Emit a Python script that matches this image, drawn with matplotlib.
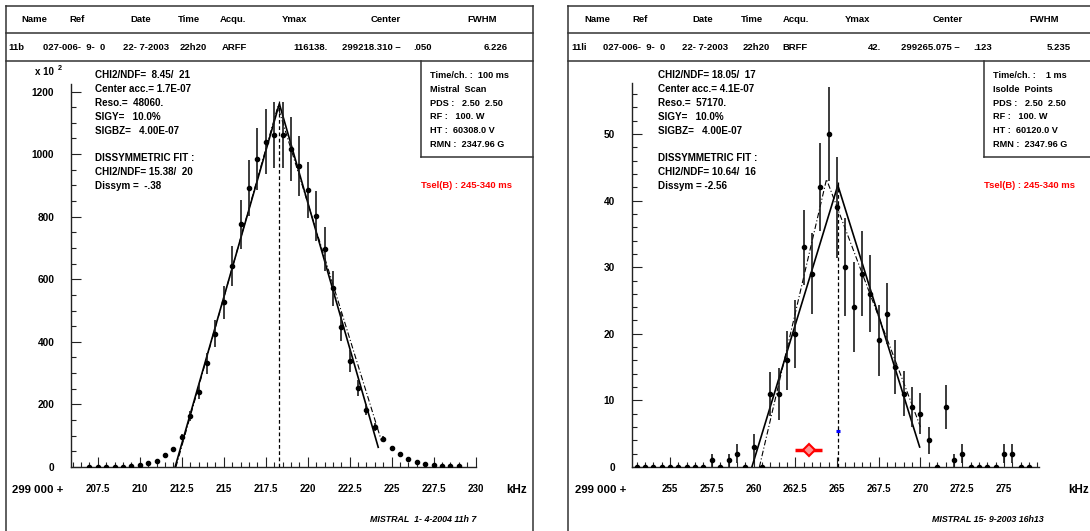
import matplotlib
matplotlib.use('Agg')
import matplotlib.pyplot as plt
from matplotlib.lines import Line2D
from matplotlib.ticker import MultipleLocator

W, H = 1090, 531
plt.rcParams['font.family'] = ['Liberation Sans', 'DejaVu Sans']
plt.rcParams['font.weight'] = 'bold'

# ---------------- data : left panel (11b, ARFF) ----------------
left_x = [207.0, 207.5, 208.0, 208.5, 209.0, 209.5, 210.0, 210.5, 211.0, 211.5,
          212.0, 212.5, 213.0, 213.5, 214.0, 214.5, 215.0, 215.5, 216.0, 216.5,
          217.0, 217.5, 218.0, 218.5, 219.0, 219.5, 220.0, 220.5, 221.0, 221.5,
          222.0, 222.5, 223.0, 223.5, 224.0, 224.5, 225.0, 225.5, 226.0, 226.5,
          227.0, 227.5, 228.0, 228.5, 229.0]
left_y = [1, 1, 1, 1, 1, 2, 6, 12, 20, 37,
          56, 97, 163, 240, 331, 426, 527, 643, 776, 891,
          984, 1040, 1061, 1061, 1015, 961, 885, 801, 697, 571,
          449, 339, 253, 183, 129, 91, 62, 40, 25, 16,
          9, 6, 3, 2, 2]
left_err = [0, 0, 0, 0, 0, 0, 1, 1, 2, 4,
            6, 10, 16, 24, 33, 43, 53, 64, 78, 89,
            98, 104, 106, 106, 102, 96, 89, 80, 70, 57,
            45, 34, 25, 18, 13, 9, 6, 4, 3, 2,
            1, 1, 0, 0, 0]
left_fit_x = [212.1, 218.31, 224.2]
left_fit_y = [0, 1161, 63]
left_dis_x = [212.15, 218.22, 224.4]
left_dis_y = [0, 1152, 82]
left_center = 218.31
left_center_top = 1170
left_xticks = [207.5, 210, 212.5, 215, 217.5, 220, 222.5, 225, 227.5, 230]
left_xlabels = ['207.5', '210', '212.5', '215', '217.5', '220', '222.5', '225', '227.5', '230']
left_yticks = [0, 200, 400, 600, 800, 1000, 1200]

# ---------------- data : right panel (11li, BRFF) ----------------
right_x = [253.0, 253.5, 254.0, 254.5, 255.0, 255.5, 256.0, 256.5, 257.0, 257.5,
           258.0, 258.5, 259.0, 259.5, 260.0, 260.5, 261.0, 261.5, 262.0, 262.5,
           263.0, 263.5, 264.0, 264.5, 265.0, 265.5, 266.0, 266.5, 267.0, 267.5,
           268.0, 268.5, 269.0, 269.5, 270.0, 270.5, 271.0, 271.5, 272.0, 272.5,
           273.0, 273.5, 274.0, 274.5, 275.0, 275.5, 276.0, 276.5]
right_y = [0, 0, 0, 0, 0, 0, 0, 0, 0, 1,
           0, 1, 2, 0, 3, 0, 11, 11, 16, 20,
           33, 29, 42, 50, 39, 30, 24, 29, 26, 19,
           23, 15, 11, 9, 8, 4, 0, 9, 1, 2,
           0, 0, 0, 0, 2, 2, 0, 0]
right_err = [0, 0, 0, 0, 0, 0, 0, 0, 0, 1.0,
             0, 1.0, 1.4, 0, 2.0, 0, 3.3, 3.9, 4.4, 5.1,
             5.6, 6.1, 6.6, 7.0, 7.6, 7.4, 6.8, 6.4, 5.8, 5.3,
             4.6, 4.1, 3.4, 3.0, 3.1, 2.0, 0, 3.3, 1.0, 1.4,
             0, 0, 0, 0, 1.4, 1.4, 0, 0]
right_fit_x = [259.9, 265.05, 269.95]
right_fit_y = [0, 42.3, 3.0]
right_dis_x = [260.35, 264.37, 270.0]
right_dis_y = [0, 43.2, 6.0]
right_center = 265.075
right_center_top = 43
right_red_x, right_red_xerr, right_red_y = 263.3, 0.8, 2.6
right_blue_x, right_blue_y = 265.05, 5.4
right_xticks = [255, 257.5, 260, 262.5, 265, 267.5, 270, 272.5, 275]
right_xlabels = ['255', '257.5', '260', '262.5', '265', '267.5', '270', '272.5', '275']
right_yticks = [0, 10, 20, 30, 40, 50]

# ---------------- texts ----------------
header_names = ['Name', 'Ref', 'Date', 'Time', 'Acqu.', 'Ymax', 'Center', 'FWHM']
left_row = ['11b', '027-006-  9-  0', '22- 7-2003', '22h20', 'ARFF', '116138.', '299218.310 \u2013', '.050', '6.226']
right_row = ['11li', '027-006-  9-  0', '22- 7-2003', '22h20', 'BRFF', '42.', '299265.075 \u2013', '.123', '5.235']
left_stats = ['CHI2/NDF=  8.45/  21', 'Center acc.= 1.7E-07', 'Reso.=  48060.', 'SIGY=   10.0%',
              'SIGBZ=   4.00E-07', '', 'DISSYMMETRIC FIT :', 'CHI2/NDF= 15.38/  20', 'Dissym =  -.38']
right_stats = ['CHI2/NDF= 18.05/  17', 'Center acc.= 4.1E-07', 'Reso.=  57170.', 'SIGY=   10.0%',
               'SIGBZ=   4.00E-07', '', 'DISSYMMETRIC FIT :', 'CHI2/NDF= 10.64/  16', 'Dissym = -2.56']
left_box = ['Time/ch. :  100 ms', 'Mistral  Scan', 'PDS :   2.50  2.50', 'RF :   100. W',
            'HT :  60308.0 V', 'RMN :  2347.96 G']
right_box = ['Time/ch. :    1 ms', 'Isolde  Points', 'PDS :   2.50  2.50', 'RF :   100. W',
             'HT :  60120.0 V', 'RMN :  2347.96 G']
tsel = 'Tsel(B) : 245-340 ms'
left_footer = 'MISTRAL  1- 4-2004 11h 7'
right_footer = 'MISTRAL 15- 9-2003 16h13'

fig = plt.figure(figsize=(W / 100, H / 100), dpi=100)
fig.patch.set_facecolor('white')


def fx(x):
    return x / W


def fy(y):
    return 1 - y / H


def line(xs, ys, lw=1.1, color='#333333'):
    fig.add_artist(Line2D([fx(v) for v in xs], [fy(v) for v in ys],
                          transform=fig.transFigure, color=color, lw=lw))


def txt(x, y, s, ha='center', size=7, **kw):
    fig.text(fx(x), fy(y), s, ha=ha, va='center', fontsize=size,
             fontweight='bold', **kw)


def panel(off, row, stats, box, footer, footer_x, has_mult, row_pos):
    L, R = 5.7 + off, 532.7 + off
    line([L, R], [5.7, 5.7])
    line([L, L], [5.7, 540])
    line([R, R], [5.7, 540])
    line([L, R], [33.3, 33.3])
    line([L, R], [61, 61])
    bx = 421 + off
    line([bx, bx], [61, 157.3])
    line([bx, R], [157.3, 157.3])
    hx = [34.7, 77, 140.4, 189, 233, 294.7, 385.5, 482]
    for x, s in zip(hx, header_names):
        txt(x + off, 19.5, s, size=6.8)
    y = 47.5
    aligns = ['left', 'center', 'center', 'center', 'left', 'right', 'left', 'left', 'center']
    for x, s, a in zip(row_pos, row, aligns):
        txt(x + off, y, s, ha=a, size=6.8)
    for i, s in enumerate(stats):
        if s:
            txt(95.3 + off, 75 + 13.9 * i, s, ha='left', size=7.1)
    for i, s in enumerate(box):
        txt(430 + off, 75.5 + 13.8 * i, s, ha='left', size=6.6)
    txt(421 + off, 186, tsel, ha='left', size=6.8, color='#ff0000')
    txt(footer_x, 520, footer, ha='center', size=6.4, style='italic')
    if has_mult:
        txt(35 + off, 72, 'x 10', ha='left', size=7)
        txt(57.5 + off, 68.5, '2', ha='left', size=5.2)


def make_axes(x0, x1, ytop, ybot, xlim, ylim):
    ax = fig.add_axes([fx(x0), fy(ybot), (x1 - x0) / W, (ybot - ytop) / H])
    ax.set_xlim(*xlim)
    ax.set_ylim(*ylim)
    ax.patch.set_alpha(0)
    for s in ('top', 'right'):
        ax.spines[s].set_visible(False)
    for s in ('left', 'bottom'):
        ax.spines[s].set_linewidth(1.0)
        ax.spines[s].set_color('#222222')
    ax.tick_params(which='both', direction='in', top=False, right=False,
                   width=0.8, color='#222222')
    ax.tick_params(which='major', length=7.2)
    ax.tick_params(axis='x', which='major', pad=12.5, labelsize=7.0)
    ax.tick_params(axis='y', which='major', pad=12, labelsize=7.3)
    ax.tick_params(which='minor', length=3.6)
    ax.xaxis.set_minor_locator(MultipleLocator(0.5))
    return ax


def draw_data(ax, xs, ys, es, fx_, fy_, dx_, dy_, cx, ctop):
    ax.errorbar(xs, ys, yerr=es, fmt='o', ms=3.0, color='black',
                ecolor='#1a1a1a', elinewidth=1.2, capsize=0, zorder=4)
    ax.plot(fx_, fy_, color='black', lw=1.2, zorder=3)
    ax.plot(dx_, dy_, color='black', lw=0.8, ls=(0, (5, 2, 1, 2)), zorder=3)
    ax.plot([cx, cx], [0, ctop], color='black', lw=0.9, ls=(0, (3, 2)), zorder=3)


# ---------- left ----------
panel(0, left_row, left_stats, left_box, left_footer, 423, True,
      [8.5, 74.5, 146, 193, 221.5, 327.5, 342, 413, 496])
axL = make_axes(71, 475.6, 83.7, 467, (205.9, 230.0), (0, 1225))
axL.set_xticks(left_xticks, left_xlabels)
axL.set_yticks(left_yticks)
axL.yaxis.set_minor_locator(MultipleLocator(50))
draw_data(axL, left_x, left_y, left_err, left_fit_x, left_fit_y,
          left_dis_x, left_dis_y, left_center, left_center_top)
for lab in axL.get_xticklabels() + axL.get_yticklabels():
    lab.set_fontweight('bold')
txt(38, 490, '299 000 +', size=8.2)
txt(516.5, 490, 'kHz', size=8.4)

# ---------- right ----------
off = 562.6
panel(off, right_row, right_stats, right_box, right_footer, 988, False,
      [8.5, 71.5, 142.5, 193.5, 220, 319, 338, 411, 496])
axR = make_axes(631.7, 1039, 82.7, 467, (252.7, 277.1), (0, 57.7))
axR.set_xticks(right_xticks, right_xlabels)
axR.set_yticks(right_yticks)
axR.yaxis.set_minor_locator(MultipleLocator(2))
draw_data(axR, right_x, right_y, right_err, right_fit_x, right_fit_y,
          right_dis_x, right_dis_y, right_center, right_center_top)
axR.errorbar([right_red_x], [right_red_y], xerr=[right_red_xerr], fmt='D', ms=6,
             color='#ff0000', mfc='#ff9090', mec='#ff0000', mew=1.5,
             elinewidth=2.5, capsize=0, zorder=5)
axR.plot([right_blue_x], [right_blue_y], marker='_', ms=3.5, mew=2.2,
         color='#0000ff', zorder=5)
for lab in axR.get_xticklabels() + axR.get_yticklabels():
    lab.set_fontweight('bold')
txt(601, 490, '299 000 +', size=8.2)
txt(1068.5, 490, 'kHz', ha='left', size=8.4)

fig.savefig('out.png', dpi=100)
